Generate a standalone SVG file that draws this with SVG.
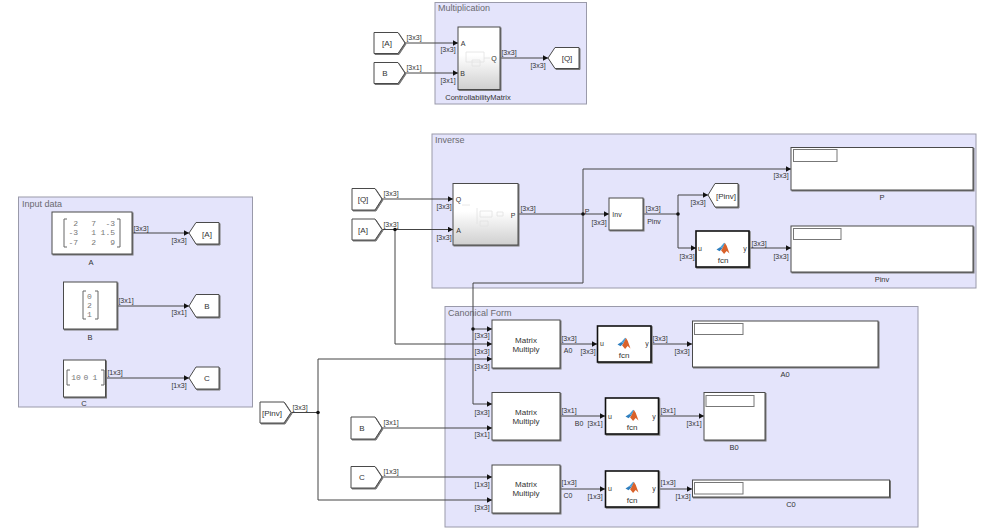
<svg xmlns="http://www.w3.org/2000/svg" width="981" height="532" viewBox="0 0 981 532">
<style>
text{font-family:"Liberation Sans",Arial,sans-serif;font-size:7px;fill:#333;text-anchor:middle}
.area{fill:#e4e4fb;stroke:#9a9aaa;stroke-width:1}
.title{font-size:9px;fill:#6a6a70;text-anchor:start}
.blk{fill:#fff;stroke:#4a4a4a;stroke-width:1;filter:drop-shadow(1px 1px .6px #777)}
.fcn{fill:#fff;stroke:#111;stroke-width:1.6;filter:drop-shadow(1px 1px .6px #888)}
.sub{fill:url(#shade);stroke:#4a4a4a;stroke-width:1;filter:drop-shadow(1px 1px .6px #777)}
.inner{fill:#fff;stroke:#777;stroke-width:1}
.name{font-size:7.5px;fill:#333}
.big{font-size:8px;fill:#333}
.mat{font-family:"Liberation Mono",monospace;font-size:8px;fill:#777}
.brk{fill:none;stroke:#666;stroke-width:1}
.faint{fill:none;stroke:#e2e2e2;stroke-width:.8}
#wires path{fill:none;stroke:#444;stroke-width:1}
#wires path.arr{marker-end:url(#head)}
#wires circle{fill:#111}
</style>
<defs>
<linearGradient id="shade" x1="0" y1="0" x2="0" y2="1">
<stop offset=".45" stop-color="#fff"/><stop offset="1" stop-color="#cfcfcf"/>
</linearGradient>
<marker id="head" markerUnits="userSpaceOnUse" markerWidth="6" markerHeight="6" refX="5.5" refY="3" orient="auto">
<path d="M0 0L5.5 3L0 6z" fill="#111"/>
</marker>
<symbol id="logo" viewBox="0 0 12 12" overflow="visible">
<path d="M0 7L3.6 4.6L5.4 6L2.8 8.6z" fill="#2f7fbf"/>
<path d="M3.6 4.6L7 0.6L8 1.4L5.4 6z" fill="#4aa0d8"/>
<path d="M5.4 6L7.8 1L9.4 3.4L12 10.6L9.4 8.4L7 11L4.2 7.6z" fill="#d9622b"/>
</symbol>
</defs>

<!-- grouping areas -->
<g id="area-multiplication"><rect class="area" x="435" y="2.500" width="151.500" height="101.500"/><text class="title" x="438" y="11">Multiplication</text></g>
<g id="area-input"><rect class="area" x="18.500" y="197" width="234" height="210"/><text class="title" x="22" y="207">Input data</text></g>
<g id="area-inverse"><rect class="area" x="432" y="134" width="544" height="154"/><text class="title" x="435" y="143">Inverse</text></g>
<g id="area-canonical"><rect class="area" x="445" y="306.500" width="473" height="220.500"/><text class="title" x="448" y="315.500">Canonical Form</text></g>

<!-- signal lines, junctions and dimension labels -->
<g id="wires">
<path class="arr" d="M405 43H458"/>
<path class="arr" d="M405 73H458"/>
<path class="arr" d="M500 58H548"/>
<path class="arr" d="M132 233H189"/>
<path class="arr" d="M117 306H189"/>
<path class="arr" d="M105.500 378H189"/>
<path class="arr" d="M382 199H453"/>
<path class="arr" d="M382 229.500H453"/>
<path d="M518 214H583"/>
<path class="arr" d="M583 214H609"/>
<path class="arr" d="M583 214V169H791"/>
<path d="M583 214V283H473V329"/>
<path class="arr" d="M473 329H492"/>
<path class="arr" d="M473 329V404H492"/>
<path class="arr" d="M395 229.500V344H492"/>
<path d="M643 214H678"/>
<path class="arr" d="M678 214V195H708"/>
<path class="arr" d="M678 214V248H696"/>
<path class="arr" d="M749 248H791"/>
<path d="M291 412.500H318"/>
<path class="arr" d="M318 412.500V359H492"/>
<path class="arr" d="M318 412.500V500H492"/>
<path class="arr" d="M382 428H492"/>
<path class="arr" d="M382 477H492"/>
<path class="arr" d="M560 344H597"/>
<path class="arr" d="M651 344H692"/>
<path class="arr" d="M560 416H605"/>
<path class="arr" d="M658 416H704"/>
<path class="arr" d="M560 489H605"/>
<path class="arr" d="M658 489H692"/>
<circle cx="395" cy="229.500" r="1.800"/>
<circle cx="583" cy="214" r="1.800"/>
<circle cx="678" cy="214" r="1.800"/>
<circle cx="473" cy="329" r="1.800"/>
<circle cx="318" cy="412.500" r="1.800"/>
<text x="414" y="39.500">[3x3]</text><text x="448" y="51.500">[3x3]</text>
<text x="414" y="69.500">[3x1]</text><text x="448" y="82.500">[3x1]</text>
<text x="509" y="54.500">[3x3]</text><text x="538" y="67.500">[3x3]</text>
<text x="141" y="230.500">[3x3]</text><text x="179" y="242.500">[3x3]</text>
<text x="126" y="302.500">[3x1]</text><text x="179" y="314.500">[3x1]</text>
<text x="115" y="374.500">[1x3]</text><text x="179" y="387.500">[1x3]</text>
<text x="391" y="195.500">[3x3]</text><text x="444" y="208.500">[3x3]</text>
<text x="391" y="226.500">[3x3]</text><text x="444" y="239.500">[3x3]</text>
<text x="528" y="210.500">[3x3]</text><text x="587" y="213.500">P</text>
<text x="599" y="224.500">[3x3]</text>
<text x="653" y="210.500">[3x3]</text><text x="654" y="223.500">Pinv</text>
<text x="781" y="177.500">[3x3]</text><text x="698" y="204.500">[3x3]</text>
<text x="687" y="258.500">[3x3]</text><text x="759" y="245.500">[3x3]</text><text x="781" y="258.500">[3x3]</text>
<text x="482" y="337.500">[3x3]</text><text x="482" y="353.500">[3x3]</text><text x="482" y="368.500">[3x3]</text>
<text x="569" y="340.500">[3x3]</text><text x="568" y="352.500">A0</text>
<text x="588" y="353.500">[3x3]</text><text x="660" y="340.500">[3x3]</text><text x="682" y="353.500">[3x3]</text>
<text x="482" y="414.500">[3x3]</text><text x="482" y="436.500">[3x1]</text>
<text x="569" y="412.500">[3x1]</text><text x="579" y="425.500">B0</text><text x="595" y="425.500">[3x1]</text>
<text x="668" y="412.500">[3x1]</text><text x="694" y="425.500">[3x1]</text>
<text x="482" y="486.500">[1x3]</text><text x="482" y="509.500">[3x3]</text>
<text x="569" y="484.500">[1x3]</text><text x="568" y="497.500">C0</text><text x="595" y="498.500">[1x3]</text>
<text x="668" y="484.500">[1x3]</text><text x="683" y="498.500">[1x3]</text>
<text x="300" y="409.500">[3x3]</text><text x="391" y="424.500">[3x1]</text><text x="391" y="473.500">[1x3]</text>
</g>

<!-- Multiplication -->
<g id="from-a-1"><polygon class="blk" points="374,32.500 398,32.500 405,43 398,53.500 374,53.500"/><text class="big" x="387" y="46">[A]</text></g>
<g id="from-b-1"><polygon class="blk" points="374,62.500 398,62.500 405,73 398,83.500 374,83.500"/><text class="big" x="385" y="76">B</text></g>
<g id="controllability-matrix">
<rect class="sub" x="458" y="27" width="42" height="62.500"/>
<path class="faint" d="M466 52h18v10h-18zM472 60h8v6h-8zM484 58h6"/>
<text x="463" y="45.500">A</text><text x="462.500" y="75.500">B</text><text x="494" y="60.500">Q</text>
<text class="name" x="478" y="99.500">ControllabilityMatrix</text>
</g>
<g id="goto-q"><polygon class="blk" points="579,47.500 555,47.500 548,58 555,68.500 579,68.500"/><text class="big" x="567" y="61">[Q]</text></g>

<!-- Input data -->
<g id="const-a">
<rect class="blk" x="52" y="212" width="80" height="42"/>
<path class="brk" d="M67 219h-3v28h3M117 219h3v28h-3"/>
<g class="mats">
<text class="mat" style="text-anchor:end" x="78" y="225.500">2</text><text class="mat" style="text-anchor:end" x="96" y="225.500">7</text><text class="mat" style="text-anchor:end" x="115" y="225.500">-3</text>
<text class="mat" style="text-anchor:end" x="78" y="235">-3</text><text class="mat" style="text-anchor:end" x="96" y="235">1</text><text class="mat" style="text-anchor:end" x="115" y="235">1.5</text>
<text class="mat" style="text-anchor:end" x="78" y="244.500">-7</text><text class="mat" style="text-anchor:end" x="96" y="244.500">2</text><text class="mat" style="text-anchor:end" x="115" y="244.500">9</text>
</g>
<text class="name" x="91" y="264.500">A</text>
</g>
<g id="goto-a"><polygon class="blk" points="219,222.500 196,222.500 189,233 196,244 219,244"/><text class="big" x="207" y="236.500">[A]</text></g>
<g id="const-b">
<rect class="blk" x="63.500" y="282" width="53.500" height="47"/>
<path class="brk" d="M86 291h-3v28h3M95 291h3v28h-3"/>
<text class="mat" x="89.500" y="298.500">0</text><text class="mat" x="89.500" y="307.500">2</text><text class="mat" x="89.500" y="316.500">1</text>
<text class="name" x="90" y="339.500">B</text>
</g>
<g id="goto-b"><polygon class="blk" points="219,294.500 196,294.500 189,306 196,317 219,317"/><text class="big" x="207" y="309">B</text></g>
<g id="const-c">
<rect class="blk" x="63.500" y="360" width="42" height="37"/>
<path class="brk" d="M70 370h-3v15h3M101 370h3v15h-3"/>
<text class="mat" x="76" y="380">10</text><text class="mat" x="86" y="380">0</text><text class="mat" x="95" y="380">1</text>
<text class="name" x="84" y="406">C</text>
</g>
<g id="goto-c"><polygon class="blk" points="219,367 196,367 189,378 196,389 219,389"/><text class="big" x="207" y="381">C</text></g>

<!-- Inverse -->
<g id="from-q"><polygon class="blk" points="352,188.500 375,188.500 382,199 375,210 352,210"/><text class="big" x="363" y="202">[Q]</text></g>
<g id="from-a-2"><polygon class="blk" points="352,219 375,219 382,229.500 375,240 352,240"/><text class="big" x="363" y="233">[A]</text></g>
<g id="inverse-subsystem">
<rect class="sub" x="453" y="183.500" width="65" height="61.500"/>
<path class="faint" d="M462 205h8M480 211h12v6h-12zM480 221h8v5h-8zM477 208v16M497 212h6v4h-6z"/>
<text x="458.500" y="201.500">Q</text><text x="458.500" y="232.500">A</text><text x="513" y="217.500">P</text>
</g>
<g id="inv"><rect class="blk" x="609" y="198" width="34" height="32"/><text x="617" y="217">Inv</text></g>
<g id="goto-pinv"><polygon class="blk" points="738,183.500 715,183.500 708,195 715,207 738,207"/><text class="big" x="726" y="198.500">[Pinv]</text></g>
<g id="fcn-p"><rect class="fcn" x="696" y="231" width="53" height="36"/><use href="#logo" x="716.500" y="242" width="13" height="13"/><text x="700" y="251">u</text><text x="745" y="251">y</text><text class="big" x="723" y="262.500">fcn</text></g>
<g id="display-p"><rect class="blk" x="791" y="147.500" width="182" height="42.500"/><rect class="inner" x="793.500" y="149.500" width="43.500" height="12"/><text class="name" x="882" y="199.500">P</text></g>
<g id="display-pinv"><rect class="blk" x="791" y="226" width="182" height="46"/><rect class="inner" x="793.500" y="228.500" width="47.500" height="11"/><text class="name" x="882" y="281.500">Pinv</text></g>

<!-- Canonical Form -->
<g id="mult-a0"><rect class="blk" x="492" y="320" width="68" height="48"/><text class="big" x="526" y="342.500">Matrix</text><text class="big" x="526" y="351.500">Multiply</text></g>
<g id="mult-b0"><rect class="blk" x="492" y="392.500" width="68" height="47.500"/><text class="big" x="526" y="414.500">Matrix</text><text class="big" x="526" y="423.500">Multiply</text></g>
<g id="mult-c0"><rect class="blk" x="492" y="465" width="68" height="48"/><text class="big" x="526" y="486.500">Matrix</text><text class="big" x="526" y="496">Multiply</text></g>
<g id="fcn-a0"><rect class="fcn" x="597.500" y="326" width="53.500" height="36"/><use href="#logo" x="617.500" y="337" width="13" height="13"/><text x="602" y="346">u</text><text x="647" y="346">y</text><text class="big" x="624" y="357.500">fcn</text></g>
<g id="fcn-b0"><rect class="fcn" x="605.500" y="398" width="53" height="36"/><use href="#logo" x="625.500" y="409" width="13" height="13"/><text x="610" y="419">u</text><text x="654" y="419">y</text><text class="big" x="632" y="429.500">fcn</text></g>
<g id="fcn-c0"><rect class="fcn" x="605.500" y="471" width="53" height="36"/><use href="#logo" x="625.500" y="481" width="13" height="13"/><text x="610" y="491">u</text><text x="654" y="491">y</text><text class="big" x="632" y="502.500">fcn</text></g>
<g id="display-a0"><rect class="blk" x="692.500" y="321" width="185.500" height="46"/><rect class="inner" x="694.500" y="323.500" width="48.500" height="11"/><text class="name" x="785" y="376.500">A0</text></g>
<g id="display-b0"><rect class="blk" x="704" y="392.500" width="61" height="47.500"/><rect class="inner" x="706" y="395.500" width="48" height="11"/><text class="name" x="734" y="449.500">B0</text></g>
<g id="display-c0"><rect class="blk" x="692.500" y="480" width="197" height="17"/><rect class="inner" x="694.500" y="482.500" width="48.500" height="11.500"/><text class="name" x="791" y="506.500">C0</text></g>
<g id="from-pinv"><polygon class="blk" points="260,402 284,402 291,412.500 284,423 260,423"/><text class="big" x="272" y="415.500">[Pinv]</text></g>
<g id="from-b-2"><polygon class="blk" points="351,417 375,417 382,428 375,439 351,439"/><text class="big" x="362" y="431">B</text></g>
<g id="from-c"><polygon class="blk" points="351,466.500 375,466.500 382,477 375,488 351,488"/><text class="big" x="362" y="480">C</text></g>
</svg>
